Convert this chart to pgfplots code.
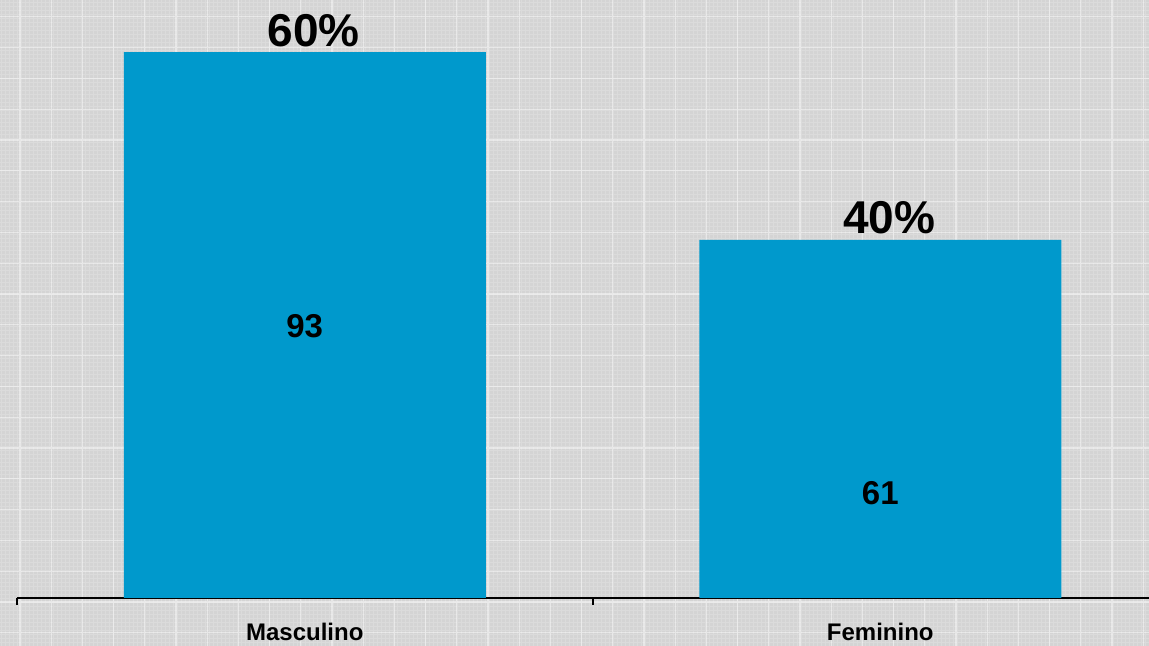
\documentclass[border=0pt]{standalone}
\usepackage{pgfplots}
\pgfplotsset{compat=1.18}
\usepackage{fontspec}
\setmainfont{Liberation Sans}
\definecolor{barblue}{HTML}{0099CC}
\definecolor{bggray}{HTML}{D4D4D4}
\begin{document}
\begin{tikzpicture}
% textured grey backdrop
\fill[bggray] (-8.5pt,-24pt) rectangle (566pt,299pt);
\begin{scope}
\clip (-8.5pt,-24pt) rectangle (566pt,299pt);
\draw[white, opacity=0.18, line width=0.35pt, step=2pt] (-10pt,-30pt) grid (570pt,305pt);
\draw[white, opacity=0.45, line width=0.6pt, xstep=15.6pt, ystep=15.4pt, shift={(1.5pt,-2pt)}] (-10pt,-30pt) grid (570pt,305pt);
\end{scope}
\begin{axis}[
    width=566pt, height=299pt,
    scale only axis,
    xmin=-0.5, xmax=1.467,
    ymin=0, ymax=101.86,
    clip=false,
    axis x line=bottom,
    x axis line style={-, black, line width=1pt},
    axis y line=none,
    xtick={0,1},
    xticklabels={Masculino,Feminino},
    major tick length=0pt,
    xticklabel style={anchor=base, yshift=-21.5pt, font=\fontsize{12pt}{14pt}\selectfont\bfseries},
    extra x ticks={-0.5,0.5},
    extra x tick labels={},
    extra x tick style={major tick length=3.5pt, tick align=outside, tick style={black, line width=1pt}},
    ]
    \addplot[ybar, bar width=181pt, fill=barblue, draw=none,
        nodes near coords, point meta=explicit symbolic,
        every node near coord/.append style={font=\fontsize{23pt}{26pt}\selectfont\bfseries, anchor=base, yshift=3pt, xshift=4.5pt}]
        coordinates {(0,93) [60\%] (1,61) [40\%]};
    \addplot[only marks, mark=none, draw=none,
        nodes near coords, point meta=explicit symbolic,
        every node near coord/.append style={font=\fontsize{16.5pt}{19pt}\selectfont\bfseries, anchor=center, yshift=0pt}]
        coordinates {(0,46.3) [93] (1,17.9) [61]};
\end{axis}
\pgfresetboundingbox
\path[use as bounding box] (-8.5pt,-24pt) rectangle (566pt,299pt);
\end{tikzpicture}
\end{document}
